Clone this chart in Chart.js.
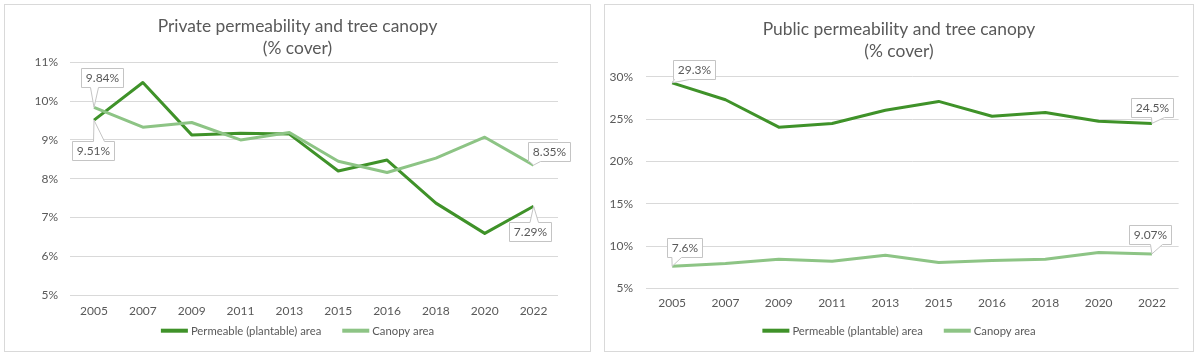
<!DOCTYPE html>
<html><head><meta charset="utf-8">
<script src="https://cdn.jsdelivr.net/npm/chart.js@4.4.0/dist/chart.umd.min.js"></script>
<style>
html,body{margin:0;padding:0;background:#fff}
body{width:1196px;height:354px;position:relative;overflow:hidden}
.panel{position:absolute;top:4px;border:1px solid #d9d9d9;overflow:hidden;background:#fff}
#p1{left:4px;width:585px;height:346px}
#p2{left:604px;width:588px;height:346px}
canvas{position:absolute;left:0;top:0}
</style></head><body>
<div class="panel" id="p1"><canvas id="c1" width="585" height="346"></canvas></div>
<div class="panel" id="p2"><canvas id="c2" width="588" height="346"></canvas></div>
<script>
// ---- data ----
const years = ['2005','2007','2009','2011','2013','2015','2016','2018','2020','2022'];
const privatePermeable = [9.51, 10.48, 9.13, 9.17, 9.15, 8.20, 8.48, 7.37, 6.59, 7.29];
const privateCanopy    = [9.84, 9.33, 9.45, 9.00, 9.19, 8.45, 8.16, 8.53, 9.07, 8.35];
const publicPermeable  = [29.3, 27.3, 24.05, 24.48, 26.05, 27.1, 25.34, 25.8, 24.75, 24.5];
const publicCanopy     = [7.6, 7.93, 8.44, 8.2, 8.91, 8.06, 8.3, 8.44, 9.23, 9.07];
const privateTicks = [5, 6, 7, 8, 9, 10, 11];
const publicTicks  = [5, 10, 15, 20, 25, 30];
const seriesNames = ['Permeable (plantable) area', 'Canopy area'];
const privateTitle = ['Private permeability and tree canopy', '(% cover)'];
const publicTitle  = ['Public permeability and tree canopy', '(% cover)'];

const FONT = 'Lato';
const TXT = '#595959';
const DARK = '#3f9229';
const LIGHT = '#8dc485';

const calloutPlugin = {
  id: 'callouts',
  afterDatasetsDraw(chart, args, opts) {
    const ctx = chart.ctx;
    ctx.save();
    ctx.font = '12px ' + FONT;
    (opts.items || []).forEach(it => {
      const el = chart.getDatasetMeta(it.ds).data[it.i];
      const px = el.x, py = el.y;
      const v = chart.data.datasets[it.ds].data[it.i];
      const text = v + '%';
      const tw = ctx.measureText(text).width;
      const w = tw + 9, h = 19;
      const cx = px + it.dx, cy = py + it.dy;
      const l = Math.round(cx - w / 2) + 0.5, t = Math.round(cy - h / 2) + 0.5, r = l + Math.round(w), b = t + h;
      ctx.beginPath();
      ctx.moveTo(l, t);
      if (it.edge === 'top') { ctx.lineTo(l + it.a, t); ctx.lineTo(px, py); ctx.lineTo(l + it.b, t); }
      ctx.lineTo(r, t);
      ctx.lineTo(r, b);
      if (it.edge === 'bottom') { ctx.lineTo(l + it.b, b); ctx.lineTo(px, py); ctx.lineTo(l + it.a, b); }
      ctx.lineTo(l, b);
      ctx.closePath();
      ctx.fillStyle = '#fff'; ctx.fill();
      ctx.strokeStyle = '#c4c4c4'; ctx.lineWidth = 1; ctx.stroke();
      ctx.fillStyle = TXT; ctx.textAlign = 'center'; ctx.textBaseline = 'middle';
      ctx.fillText(text, (l + r) / 2, (t + b) / 2 + 0.5);
    });
    ctx.restore();
  }
};

const legendPlugin = {
  id: 'xlLegend',
  afterDraw(chart, args, opts) {
    const ctx = chart.ctx;
    ctx.save();
    ctx.font = opts.fontSize + 'px ' + FONT;
    const items = chart.data.datasets.map(d => ({ text: d.label, color: d.borderColor, w: ctx.measureText(d.label).width }));
    const bw = opts.boxWidth, gap = opts.gap, ig = opts.itemGap;
    let total = items.reduce((s, it) => s + bw + gap + it.w, 0) + ig * (items.length - 1);
    let x = chart.width / 2 - total / 2 + (opts.shift || 0);
    const y = opts.y;
    items.forEach(it => {
      ctx.fillStyle = it.color;
      ctx.fillRect(x, y - 2, bw, 4);
      ctx.fillStyle = TXT; ctx.textAlign = 'left'; ctx.textBaseline = 'middle';
      ctx.fillText(it.text, x + bw + gap, y + 0.5);
      x += bw + gap + it.w + ig;
    });
    ctx.restore();
  }
};

function makeChart(id, title, perm, canopy, ticks, geo, callouts) {
  return new Chart(document.getElementById(id), {
    type: 'line',
    data: {
      labels: years,
      datasets: [
        { label: seriesNames[0], data: perm, borderColor: DARK, backgroundColor: DARK, borderWidth: 3, pointRadius: 0, tension: 0, borderJoinStyle: 'round', order: 1 },
        { label: seriesNames[1], data: canopy, borderColor: LIGHT, backgroundColor: LIGHT, borderWidth: 3, pointRadius: 0, tension: 0, borderJoinStyle: 'round', order: 0 }
      ]
    },
    options: {
      responsive: false,
      animation: false,
      events: [],
      layout: { padding: { left: 0, right: 0, top: 0, bottom: geo.bottom } },
      plugins: {
        legend: { display: false },
        tooltip: { enabled: false },
        title: {
          display: true, text: title, color: TXT,
          font: { family: FONT, size: 17.4, weight: 'normal', lineHeight: 1.29 },
          padding: { top: geo.titleTop, bottom: geo.titleBottom }
        },
        callouts: { items: callouts },
        xlLegend: { y: 325.7, boxWidth: 27, gap: 3, itemGap: 21, fontSize: 11.3 }
      },
      scales: {
        x: {
          type: 'category', offset: true,
          grid: { display: false, drawTicks: false },
          border: { display: false },
          ticks: { color: TXT, font: { family: FONT, size: 12 }, padding: geo.xPad, maxRotation: 0, autoSkip: false },
          afterFit: s => { s.height = geo.xH; }
        },
        y: {
          min: ticks[0], max: ticks[ticks.length - 1],
          afterBuildTicks: ax => { ax.ticks = ticks.map(v => ({ value: v })); },
          grid: { color: '#d9d9d9', lineWidth: 1, drawTicks: false },
          border: { display: false },
          ticks: { color: TXT, font: { family: FONT, size: 12 }, padding: geo.yPad, callback: v => v + '%' },
          afterFit: s => { s.width = geo.yW; }
        },
        spacer: {
          position: 'right', min: 0, max: 1,
          grid: { display: false, drawTicks: false },
          border: { display: false },
          ticks: { display: false },
          afterFit: s => { s.width = geo.right; }
        }
      }
    },
    plugins: [calloutPlugin, legendPlugin]
  });
}

makeChart('c1', privateTitle, privatePermeable, privateCanopy, privateTicks,
  { right: 32, bottom: 26, titleTop: 10, titleBottom: 2.5, xPad: 9, xH: 30, yPad: 11.5, yW: 64.6 },
  [
    { ds: 1, i: 0, dx: 8, dy: -29.8, edge: 'bottom', a: 9, b: 17 },
    { ds: 0, i: 0, dx: -1.2, dy: 30.2, edge: 'top', a: 21, b: 32 },
    { ds: 1, i: 9, dx: 15.5, dy: -13.4, edge: 'bottom', a: 1, b: 12 },
    { ds: 0, i: 9, dx: -3.2, dy: 25, edge: 'top', a: 20.5, b: 29 }
  ]);

makeChart('c2', publicTitle, publicPermeable, publicCanopy, publicTicks,
  { right: 14.4, bottom: 32.7, titleTop: 13, titleBottom: 14, xPad: 7.5, xH: 30, yPad: 12.5, yW: 40.5 },
  [
    { ds: 0, i: 0, dx: 21.7, dy: -13.5, edge: 'bottom', a: 1, b: 16 },
    { ds: 1, i: 0, dx: 12.8, dy: -18.4, edge: 'bottom', a: 4.4, b: 14 },
    { ds: 0, i: 9, dx: 0.2, dy: -15.8, edge: 'bottom', a: 20, b: 33 },
    { ds: 1, i: 9, dx: -1.3, dy: -19.8, edge: 'bottom', a: 21, b: 33 }
  ]);
</script>
</body></html>
